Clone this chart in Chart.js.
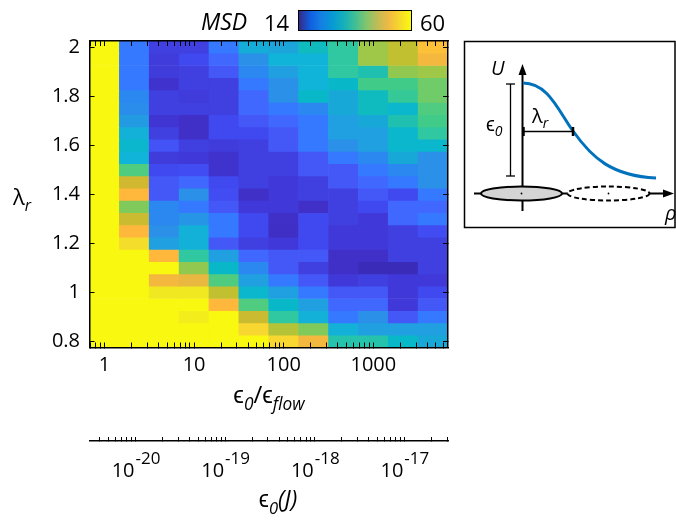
<!DOCTYPE html>
<html lang="en">
<head>
<meta charset="UTF-8">
<title>MSD map</title>
<script src="https://cdn.jsdelivr.net/npm/chart.js@4"></script>
<style>
  body { margin: 0; background: #fff; }
  #wrap { position: relative; width: 676px; height: 522px; font-family: "Open Sans", sans-serif; color: #000; }
  #wrap canvas { position: absolute; left: 0; top: 0; }
  .lbl { position: absolute; line-height: 1; white-space: nowrap; }
  .mid { transform: translateX(-50%); }
  .sub { font-size: 0.72em; position: relative; top: 0.4em; font-style: italic; }
  #cbar { position: absolute; left: 298px; top: 10px; width: 112px; height: 19px; border: 1.5px solid #000; }
  #inset { position: absolute; left: 0; top: 0; }
</style>
</head>
<body>
<div id="wrap">
  <canvas id="chart" width="676" height="522"></canvas>

  <div class="lbl" style="left:201px;top:9.5px;font-size:23px;font-style:italic">MSD</div>
  <div class="lbl" style="left:264px;top:10.5px;font-size:22px">14</div>
  <div id="cbar"></div>
  <div class="lbl" style="left:420px;top:10.5px;font-size:22px">60</div>

  <div class="lbl" style="left:13px;top:185px;font-size:22px">λ<span class="sub">r</span></div>
  <div class="lbl mid" style="left:269px;top:382px;font-size:24px">ϵ<span class="sub">0</span>/ϵ<span class="sub">flow</span></div>
  <div class="lbl mid" style="left:278px;top:487px;font-size:23px">ϵ<span class="sub">0</span><i>(J)</i></div>

  <svg id="inset" width="676" height="522" viewBox="0 0 676 522" font-family="Open Sans, sans-serif">
    <rect x="464.5" y="41.5" width="210.5" height="186" fill="#fff" stroke="#000" stroke-width="1.5"/>
    <line x1="522.5" y1="211" x2="522.5" y2="72" stroke="#000" stroke-width="2"/>
    <polygon points="522.5,64 518.5,75 526.5,75" fill="#000"/>
    <line x1="474" y1="193.5" x2="664" y2="193.5" stroke="#000" stroke-width="2"/>
    <polygon points="674,193.5 663,189.5 663,197.5" fill="#000"/>
    <ellipse cx="521.5" cy="193.5" rx="40.5" ry="7" fill="#d4d4d4" stroke="#000" stroke-width="2"/>
    <ellipse cx="608.5" cy="193.5" rx="41" ry="7" fill="#fff" stroke="#000" stroke-width="2" stroke-dasharray="5 3"/>
    <circle cx="521.5" cy="193.5" r="0.9" fill="#000"/>
    <circle cx="608.5" cy="193.5" r="0.9" fill="#000"/>
    <path d="M523,83 C548,83 558,110 573,131 C592,158 612,176 656,178" fill="none" stroke="#0072bd" stroke-width="3"/>
    <line x1="510.5" y1="84" x2="510.5" y2="176" stroke="#000" stroke-width="1.3"/>
    <line x1="506" y1="84" x2="515" y2="84" stroke="#000" stroke-width="1.3"/>
    <line x1="506" y1="176" x2="515" y2="176" stroke="#000" stroke-width="1.3"/>
    <line x1="523" y1="131.5" x2="573" y2="131.5" stroke="#000" stroke-width="1.3"/>
    <line x1="523.5" y1="127" x2="523.5" y2="136" stroke="#000" stroke-width="2.5"/>
    <line x1="573" y1="127" x2="573" y2="136" stroke="#000" stroke-width="2.5"/>
    <text x="491" y="75" font-size="20" font-style="italic">U</text>
    <text x="486" y="131" font-size="20">ϵ<tspan font-size="14" font-style="italic" dy="5">0</tspan></text>
    <text x="532" y="123" font-size="20">λ<tspan font-size="14" font-style="italic" dy="5">r</tspan></text>
    <text x="665" y="220" font-size="20" font-style="italic">ρ</text>
  </svg>
</div>

<script>
// columns: energy ratio eps0/eps_flow (log spaced, 3 per decade)
const energyRatio = [1, 2.154, 4.642, 10, 21.54, 46.42, 100, 215.4, 464.2, 1000, 2154, 4642];
// rows: lambda_r, top to bottom
const lambdaR = [2.0, 1.95, 1.9, 1.85, 1.8, 1.75, 1.7, 1.65, 1.6, 1.55, 1.5, 1.45, 1.4,
                 1.35, 1.3, 1.25, 1.2, 1.15, 1.1, 1.05, 1.0, 0.95, 0.9, 0.85, 0.8];
// MSD per row (same order as lambdaR), one value per energyRatio column
const msd = [
  [60, 28,   22,   22,   28,   35,   34,   38,   40.5, 48.5, 50,   55.5], // 2.00
  [60, 28,   21,   23.5, 26.5, 31.5, 36,   36,   40.5, 48.5, 50,   54  ], // 1.95
  [60, 28,   21,   22,   25,   30,   33,   36,   40.5, 39,   47,   48.5], // 1.90
  [60, 28,   19.5, 22,   22,   28,   31.5, 36,   37.5, 42,   42,   45  ], // 1.85
  [60, 30,   22,   21,   22,   26.5, 31.5, 37.5, 34.5, 38,   41,   45  ], // 1.80
  [60, 31,   22,   22,   22,   26.5, 28,   30,   34.5, 38,   37,   43.5], // 1.75
  [60, 32.5, 20,   19,   23.5, 25,   26.5, 28,   33,   34.5, 39,   42  ], // 1.70
  [60, 35.5, 22,   19,   23.5, 23.5, 25,   28,   33,   33,   37,   40.5], // 1.65
  [60, 37,   24.5, 22,   21,   22,   25,   28,   31.5, 33,   37,   37  ], // 1.60
  [60, 36,   21,   20.5, 19.5, 22,   22,   25,   28,   30,   34.5, 31.5], // 1.55
  [60, 43.5, 23.5, 24,   19.5, 22,   22,   25,   25,   28,   30,   31.5], // 1.50
  [60, 51.5, 25,   26.5, 23.5, 22,   20.5, 22,   25,   26.5, 28,   31.5], // 1.45
  [60, 55,   25,   31.5, 24,   19,   20.5, 22,   22,   25,   23.5, 28  ], // 1.40
  [60, 46,   30,   28,   25,   20.5, 20.5, 19,   22,   23.5, 26.5, 26.5], // 1.35
  [60, 51,   30,   32,   28,   23.5, 19,   23.5, 22,   20.5, 26.5, 28  ], // 1.30
  [60, 55,   31.5, 35.5, 28,   23.5, 18.5, 23.5, 20.5, 20.5, 22,   24  ], // 1.25
  [60, 57.5, 33,   35.5, 25,   22,   20.5, 23.5, 20.5, 20.5, 22,   22  ], // 1.20
  [60, 60,   55,   40.5, 33,   26.5, 25,   25,   19,   19,   22,   22  ], // 1.15
  [60, 60,   60,   47,   37.5, 30,   25,   22,   19,   17,   17,   22  ], // 1.10
  [60, 60,   54,   53,   43.5, 33,   28,   25,   20.5, 22,   20.5, 20.5], // 1.05
  [60, 60,   58.5, 58.5, 50,   37,   33,   28,   25,   25,   20.5, 23.5], // 1.00
  [60, 60,   60,   60,   55,   43.5, 37.5, 33,   26.5, 26.5, 20.5, 25  ], // 0.95
  [60, 60,   60,   59,   60,   51,   40.5, 35.5, 28,   31.5, 25,   28  ], // 0.90
  [60, 60,   60,   60,   60,   57,   49.5, 46,   35.5, 33,   33,   33  ], // 0.85
  [60, 60,   60,   60,   60,   60,   57,   54,   39.5, 39.5, 37.5, 34.5]  // 0.80
];
const msdRange = [14, 60];
const yTicks = [0.8, 1, 1.2, 1.4, 1.6, 1.8, 2];
const jouleExponents = [-20, -19, -18, -17];
const epsFlow = 4.5e-21; // J, eps0 = ratio * epsFlow

// colours as they show in the cells
const cellStops = [
  [14, '#2e2a8c'], [17, '#3a2cb8'], [19, '#4030c8'], [20.5, '#4038d8'], [22, '#4040e0'],
  [23.5, '#4048f0'], [25, '#4458f8'], [26.5, '#4068ff'], [28, '#3479ff'], [30, '#2a88f0'],
  [31.5, '#2a90e8'], [33, '#20a0e0'], [34.5, '#18a8d8'], [36, '#10b4d8'], [37.5, '#08b8c8'],
  [39, '#20c0b0'], [40.5, '#30c8a0'], [42, '#40cc88'], [43.5, '#50cc80'], [45, '#70cc68'],
  [47, '#90c850'], [48.5, '#a0c848'], [50, '#c0c030'], [51.5, '#d0b830'], [53, '#e8b840'],
  [55, '#ffb83c'], [57, '#f8d830'], [58.5, '#f0e820'], [60, '#f8f810']
];
// parula, for the colour bar
const parula = ['#352a87', '#0f5fe1', '#1480e3', '#069ad3', '#15b0ba', '#3ebf95',
                '#81c56d', '#bfbc57', '#f0b943', '#f7d92b', '#f9fb0e'];

document.getElementById('cbar').style.background =
  'linear-gradient(to right, ' + parula.join(', ') + ')';

function hexRgb(h) {
  return [parseInt(h.slice(1, 3), 16), parseInt(h.slice(3, 5), 16), parseInt(h.slice(5, 7), 16)];
}

function cellColor(v) {
  v = Math.min(msdRange[1], Math.max(msdRange[0], v));
  for (let i = 1; i < cellStops.length; i++) {
    const [v1, c1] = cellStops[i];
    if (v <= v1) {
      const [v0, c0] = cellStops[i - 1];
      const t = (v - v0) / (v1 - v0);
      const a = hexRgb(c0), b = hexRgb(c1);
      return 'rgb(' + a.map((x, k) => Math.round(x + (b[k] - x) * t)).join(',') + ')';
    }
  }
  return cellStops[cellStops.length - 1][1];
}

// 1..9 x 10^n ticks inside [min, max]
function logTicks(min, max) {
  const out = [];
  for (let e = Math.floor(Math.log10(min)); e <= Math.ceil(Math.log10(max)); e++) {
    for (let m = 1; m <= 9; m++) {
      const v = m * Math.pow(10, e);
      if (v >= min * 0.9999 && v <= max * 1.0001) out.push({ value: v, major: m === 1 });
    }
  }
  return out;
}

const halfRow = 0.025;
const xMin = Math.pow(10, -1 / 6), xMax = Math.pow(10, 23 / 6);
const yMin = lambdaR[lambdaR.length - 1] - halfRow, yMax = lambdaR[0] + halfRow;

const datasets = lambdaR.map((lam, i) => ({
  data: energyRatio.map((r, j) => ({ x: r, y: [lam - halfRow, lam + halfRow], v: msd[i][j] })),
  backgroundColor: ctx => cellColor(ctx.raw.v),
  borderWidth: 0,
  barThickness: 'flex',
  barPercentage: 1,
  categoryPercentage: 1,
  stack: 'cells'
}));

const tickGrid = { drawOnChartArea: false, drawTicks: true, tickLength: -5, color: '#000', lineWidth: 1, offset: false, z: 1 };
const axisBorder = { display: true, color: '#000', width: 1.5, z: 1 };

const jouleLabels = {
  id: 'jouleLabels',
  afterDraw(chart) {
    const s = chart.scales.xJ, ctx = chart.ctx;
    ctx.save();
    ctx.fillStyle = '#000';
    ctx.textBaseline = 'alphabetic';
    ctx.textAlign = 'left';
    jouleExponents.forEach(e => {
      const px = s.getPixelForValue(Math.pow(10, e));
      ctx.font = '20px "Open Sans"';
      const wb = ctx.measureText('10').width;
      ctx.font = '17px "Open Sans"';
      const we = ctx.measureText(String(e)).width;
      const x0 = px - (wb + we) / 2;
      ctx.font = '20px "Open Sans"';
      ctx.fillText('10', x0, 477);
      ctx.font = '17px "Open Sans"';
      ctx.fillText(String(e), x0 + wb + 1, 463.5);
    });
    ctx.restore();
  }
};

Chart.defaults.font.family = '"Open Sans", sans-serif';
Chart.defaults.font.size = 20;
Chart.defaults.color = '#000';

new Chart(document.getElementById('chart'), {
  type: 'bar',
  data: { datasets },
  plugins: [jouleLabels],
  options: {
    responsive: false,
    animation: false,
    events: [],
    layout: { padding: 0 },
    plugins: { legend: { display: false }, tooltip: { enabled: false } },
    scales: {
      x: {
        type: 'logarithmic', position: 'bottom', weight: 0,
        min: xMin, max: xMax, offset: false,
        grid: tickGrid, border: axisBorder,
        afterBuildTicks: s => { s.ticks = logTicks(xMin, xMax); },
        afterFit: s => { s.height = 93.5; },
        ticks: {
          autoSkip: false, maxRotation: 0, padding: 10.5,
          callback: (v, i, t) => t[i].major ? String(Math.round(v)) : ''
        }
      },
      xJ: {
        type: 'logarithmic', position: 'bottom', weight: 1,
        min: xMin * epsFlow, max: xMax * epsFlow, offset: false,
        grid: { ...tickGrid, tickLength: -4 }, border: axisBorder,
        afterBuildTicks: s => { s.ticks = logTicks(xMin * epsFlow, xMax * epsFlow); },
        afterFit: s => { s.height = 81; },
        ticks: { display: false, autoSkip: false }
      },
      x2: {
        type: 'logarithmic', position: 'top',
        min: xMin, max: xMax, offset: false,
        grid: tickGrid, border: axisBorder,
        afterBuildTicks: s => { s.ticks = logTicks(xMin, xMax); },
        afterFit: s => { s.height = 41; },
        ticks: { display: false, autoSkip: false }
      },
      y: {
        type: 'linear', position: 'left', stacked: false,
        min: yMin, max: yMax,
        grid: tickGrid, border: axisBorder,
        afterBuildTicks: s => { s.ticks = yTicks.map(v => ({ value: v })); },
        afterFit: s => { s.width = 89.5; },
        ticks: { padding: 14.5, autoSkip: false, callback: v => String(v) }
      },
      y2: {
        type: 'linear', position: 'right',
        min: yMin, max: yMax,
        grid: tickGrid, border: axisBorder,
        afterBuildTicks: s => { s.ticks = yTicks.map(v => ({ value: v })); },
        afterFit: s => { s.width = 228; },
        ticks: { display: false, autoSkip: false }
      }
    }
  }
});
</script>
</body>
</html>
